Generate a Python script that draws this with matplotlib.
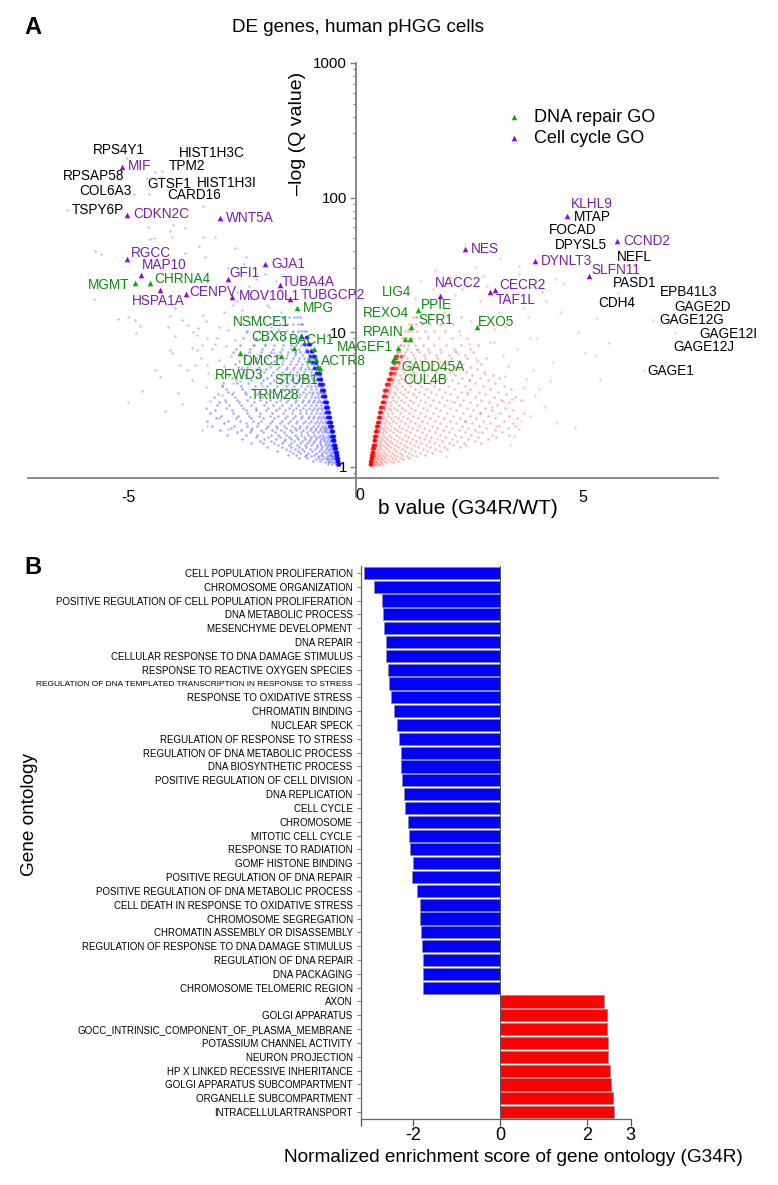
import matplotlib
matplotlib.use('Agg')
import matplotlib.pyplot as plt

W, H = 778, 1185

# volcano cloud read by eye from the picture. The real plot has thousands of
# dots, so this is a thinned version of it
blue_x = [-5.04, -4.42, -4.25, -4.29, -4.6, -4.55, -4.87, -6.36, -3.35, -4.02,
          -4.56, -3.76, -4.09, -4.44, -4.53, -4.05, -3.35, -3.09, -5.74, -5.61,
          -3.76, -3.45, -2.65, -2.4, -3.31, -5.76, -5.22, -5.0, -4.86, -4.75,
          -4.84, -4.09, -3.97, -3.83, -4.13, -3.68, -3.57, -3.97, -3.47, -3.39,
          -4.09, -4.05, -3.5, -3.28, -3.87, -3.53, -3.28, -4.42, -4.71, -5.0,
          -3.83, -4.31, -3.39, -3.28, -4.2, -3.9, -3.6, -3.2, -3.0, -2.8,
          -3.1, -2.9, -2.7, -3.4, -3.15, -2.95, -2.75, -2.55, -2.35, -3.05,
          -2.85, -2.65, -2.45, -2.25, -2.05, -3.3, -3.0, -2.8, -2.6, -2.4,
          -2.2, -2.0, -1.8, -2.9, -2.7, -2.5, -2.3, -2.1, -1.9, -1.7,
          -2.6, -2.35, -2.15, -1.95, -1.75, -2.2, -2.0, -1.8, -1.6, -1.4,
          -3.7, -3.3, -2.95, -3.6, -3.25, -3.0, -2.7, -3.5, -3.1, -2.85,
          -2.5, -1.85, -3.35, -2.6, -1.95, -1.6, -1.3, -2.8, -2.45, -2.05, -1.65]
blue_q = [196, 154, 158, 143, 140, 106, 106, 81, 87, 62,
          60, 59, 56, 50, 49, 51, 51, 51, 40, 38,
          39, 44, 42, 36, 36, 17.6, 12.5, 12.9, 12.3, 11.1,
          9.9, 13.2, 15.1, 12.3, 11, 11.3, 10, 9.3, 10.7, 8,
          7.4, 7, 7.4, 9, 5.7, 5.7, 5.7, 5.2, 3.65, 3,
          2.9, 4.67, 1.88, 2, 2.6, 3.5, 4.4, 3.1, 2.3, 1.9,
          4.6, 5.6, 3.6, 6.4, 7.5, 4, 6.6, 4.3, 6, 9,
          7.9, 8.7, 6.9, 8, 4, 12, 11, 10.4, 12.6, 10,
          8.9, 8, 7, 14, 16, 14.5, 18, 13, 15.5, 10.5,
          20, 22, 18, 20, 24, 25, 27, 9.5, 8.6, 10,
          5.2, 3.9, 3.4, 7.6, 5, 6.2, 4.2, 9.6, 8.2, 3,
          5.5, 11, 13.5, 17, 16, 12.5, 7, 30, 32, 18, 14]

# rows of dots in the wedge, one q level per row
blue_row_q = [1.03, 1.08, 1.14, 1.2, 1.27, 1.35, 1.44, 1.55, 1.67, 1.8,
              1.95, 2.1, 2.3, 2.5, 2.75, 3.0, 3.3, 3.6, 4.0, 4.4,
              4.8, 5.3, 5.8, 6.4, 7.1, 8.0, 9.0, 10.2, 11.5, 13.0]
blue_row_x = [[-.36, -.37, -.39, -.41, -.44],
              [-.37, -.38, -.4, -.42, -.45, -.5, -.58, -.67],
              [-.38, -.39, -.41, -.43, -.46, -.49, -.56, -.63, -.74, -.88],
              [-.4, -.41, -.42, -.44, -.47, -.5, -.55, -.62, -.71, -.83, -.97, -1.12],
              [-.41, -.42, -.44, -.46, -.48, -.52, -.57, -.65, -.74, -.86, -1.04, -1.22, -1.38],
              [-.42, -.43, -.45, -.47, -.5, -.53, -.59, -.66, -.77, -.89, -1.01, -1.17, -1.33, -1.52],
              [-.44, -.45, -.47, -.49, -.52, -.56, -.6, -.68, -.75, -.85, -.98, -1.12, -1.28, -1.46, -1.7],
              [-.46, -.47, -.49, -.51, -.53, -.57, -.63, -.7, -.79, -.91, -1.03, -1.18, -1.36, -1.58, -1.85, -2.1],
              [-.48, -.49, -.51, -.53, -.56, -.59, -.64, -.72, -.81, -.88, -.99, -1.14, -1.29, -1.47, -1.66, -1.93, -2.2],
              [-.5, -.51, -.53, -.55, -.58, -.62, -.67, -.74, -.83, -.94, -1.07, -1.21, -1.4, -1.57, -1.78, -2.04, -2.33, -2.6],
              [-.52, -.53, -.55, -.57, -.6, -.64, -.7, -.77, -.86, -.97, -1.1, -1.25, -1.34, -1.52, -1.72, -1.98, -2.27, -2.75],
              [-.54, -.55, -.57, -.59, -.62, -.66, -.72, -.8, -.9, -1.02, -1.16, -1.31, -1.49, -1.66, -1.88, -2.14, -2.42, -2.9],
              [-.56, -.57, -.59, -.61, -.64, -.69, -.75, -.83, -.93, -1.05, -1.2, -1.37, -1.56, -1.79, -2.03, -2.3, -2.62, -3.08],
              [-.58, -.59, -.61, -.64, -.67, -.72, -.78, -.87, -.97, -1.09, -1.23, -1.4, -1.6, -1.84, -2.11, -2.38, -2.69, -3.2],
              [-.61, -.62, -.64, -.66, -.7, -.75, -.82, -.91, -1.02, -1.15, -1.3, -1.47, -1.68, -1.92, -2.18, -2.47, -2.86, -3.3],
              [-.63, -.64, -.66, -.69, -.73, -.78, -.85, -.94, -1.05, -1.18, -1.34, -1.53, -1.74, -1.98, -2.24, -2.56, -3.0],
              [-.66, -.67, -.69, -.72, -.76, -.82, -.89, -.99, -1.11, -1.25, -1.41, -1.6, -1.81, -2.06, -2.33, -2.66, -3.12],
              [-.69, -.7, -.72, -.75, -.79, -.85, -.93, -1.03, -1.15, -1.29, -1.45, -1.64, -1.86, -2.12, -2.44, -2.81],
              [-.72, -.73, -.75, -.78, -.83, -.89, -.97, -1.07, -1.2, -1.35, -1.52, -1.72, -1.95, -2.21, -2.52, -2.95],
              [-.75, -.76, -.78, -.82, -.87, -.93, -1.02, -1.13, -1.26, -1.41, -1.59, -1.79, -2.03, -2.31, -2.64],
              [-.78, -.79, -.81, -.85, -.9, -.97, -1.06, -1.17, -1.31, -1.47, -1.65, -1.87, -2.11, -2.43, -2.78],
              [-.81, -.82, -.85, -.89, -.95, -1.02, -1.11, -1.23, -1.37, -1.54, -1.73, -1.96, -2.2, -2.52],
              [-.85, -.86, -.89, -.93, -.99, -1.07, -1.17, -1.3, -1.45, -1.62, -1.83, -2.06, -2.34, -2.65],
              [-.89, -.91, -.94, -.98, -1.05, -1.14, -1.25, -1.38, -1.54, -1.72, -1.94, -2.19, -2.46],
              [-.94, -.96, -.99, -1.04, -1.12, -1.22, -1.34, -1.49, -1.66, -1.85, -2.08, -2.35, -2.7],
              [-1.0, -1.02, -1.06, -1.12, -1.2, -1.3, -1.43, -1.6, -1.79, -2.0, -2.24, -2.55],
              [-1.05, -1.07, -1.12, -1.19, -1.29, -1.41, -1.56, -1.74, -1.95, -2.18, -2.47],
              [-1.1, -1.13, -1.19, -1.27, -1.38, -1.52, -1.69, -1.89, -2.12, -2.39],
              [-1.17, -1.2, -1.27, -1.37, -1.5, -1.66, -1.85, -2.07, -2.33],
              [-1.23, -1.28, -1.36, -1.47, -1.62, -1.8, -2.02, -2.28]]

# second pass between the rows above
blue_mid_q = [1.05, 1.11, 1.17, 1.23, 1.31, 1.39, 1.49, 1.61, 1.73, 1.87,
              2.02, 2.2, 2.4, 2.62, 2.87, 3.15, 3.45, 3.8, 4.2, 4.6,
              5.05, 5.55, 6.1, 6.75, 7.5]
blue_mid_x = [[-.385, -.43, -.52, -.61],
              [-.4, -.44, -.53, -.6, -.79, -.94],
              [-.405, -.45, -.51, -.6, -.68, -.8, -1.07, -1.25],
              [-.42, -.46, -.54, -.59, -.77, -.91, -1.08, -1.3, -1.49],
              [-.43, -.47, -.51, -.61, -.7, -.81, -.95, -1.13, -1.26, -1.45, -1.73],
              [-.45, -.48, -.55, -.63, -.73, -.84, -1.09, -1.24, -1.41, -1.62, -1.94],
              [-.47, -.5, -.58, -.66, -.78, -.93, -1.07, -1.23, -1.42, -1.61, -1.79, -2.03, -2.3],
              [-.49, -.52, -.6, -.69, -.76, -.86, -1.0, -1.11, -1.26, -1.43, -1.55, -1.75, -2.01, -2.49],
              [-.5, -.54, -.61, -.71, -.79, -.92, -1.05, -1.19, -1.34, -1.52, -1.71, -1.87, -2.16, -2.42, -2.84],
              [-.52, -.56, -.65, -.69, -.78, -.89, -1.01, -1.15, -1.31, -1.45, -1.63, -1.83, -2.09, -2.29, -2.52, -2.98],
              [-.54, -.58, -.67, -.73, -.82, -.94, -1.06, -1.22, -1.39, -1.58, -1.76, -1.92, -2.17, -2.39, -2.68, -3.15],
              [-.56, -.6, -.68, -.76, -.85, -.98, -1.12, -1.28, -1.44, -1.62, -1.84, -2.07, -2.25, -2.55, -2.81, -3.27],
              [-.58, -.63, -.71, -.8, -.91, -1.03, -1.17, -1.33, -1.51, -1.7, -1.89, -2.12, -2.34, -2.58, -2.96],
              [-.6, -.65, -.74, -.84, -.95, -1.08, -1.22, -1.38, -1.55, -1.76, -1.96, -2.2, -2.42, -2.73, -3.1],
              [-.63, -.68, -.77, -.87, -.99, -1.12, -1.27, -1.43, -1.62, -1.81, -2.02, -2.29, -2.51, -2.79, -3.05],
              [-.65, -.7, -.8, -.91, -1.02, -1.16, -1.31, -1.49, -1.67, -1.88, -2.1, -2.38, -2.61, -2.88],
              [-.68, -.74, -.83, -.95, -1.08, -1.22, -1.37, -1.54, -1.72, -1.93, -2.16, -2.41, -2.73, -3.02],
              [-.71, -.77, -.87, -.99, -1.12, -1.27, -1.43, -1.6, -1.79, -2.0, -2.26, -2.49, -2.85],
              [-.74, -.8, -.9, -1.03, -1.17, -1.32, -1.48, -1.67, -1.88, -2.09, -2.36, -2.6, -2.91],
              [-.77, -.84, -.95, -1.08, -1.23, -1.38, -1.54, -1.73, -1.94, -2.16, -2.4, -2.72],
              [-.8, -.87, -.99, -1.13, -1.28, -1.44, -1.61, -1.81, -2.01, -2.25, -2.48],
              [-.84, -.92, -1.04, -1.19, -1.35, -1.51, -1.69, -1.89, -2.12, -2.38, -2.59],
              [-.88, -.96, -1.1, -1.26, -1.42, -1.6, -1.79, -2.0, -2.22, -2.56],
              [-.93, -1.02, -1.17, -1.33, -1.51, -1.7, -1.91, -2.13, -2.4],
              [-.98, -1.08, -1.25, -1.43, -1.62, -1.82, -2.05, -2.32, -2.63]]

# the solid strip along the wedge edge
blue_core_q = [1.04, 1.1, 1.16, 1.22, 1.29, 1.37, 1.46, 1.58, 1.7, 1.85,
               2.0, 2.15, 2.35, 2.55, 2.8, 3.05, 3.35, 3.7, 4.1, 4.5,
               4.95, 5.45, 6.0, 6.6, 7.3, 8.2, 9.2]
blue_core_x = [[-.36, -.375, -.395], [-.375, -.39, -.41], [-.39, -.405, -.425], [-.4, -.415, -.44],
               [-.415, -.43, -.455], [-.43, -.445, -.47], [-.445, -.46, -.49], [-.465, -.48, -.51],
               [-.48, -.5, -.53], [-.505, -.52, -.55], [-.525, -.545, -.575], [-.545, -.565, -.6],
               [-.565, -.585, -.62], [-.585, -.61, -.645], [-.615, -.635, -.67], [-.635, -.66, -.7],
               [-.665, -.69, -.73], [-.695, -.72, -.76], [-.725, -.75, -.8], [-.755, -.78, -.83],
               [-.785, -.815, -.87], [-.82, -.855, -.91], [-.86, -.895, -.96], [-.9, -.94, -1.01],
               [-.95, -.99, -1.07], [-1.01, -1.05, -1.13], [-1.06, -1.1, -1.2]]

red_x = [6.56, 6.34, 7.04, 5.39, 5.31, 5.78, 5.57, 4.43, 4.83, 5.05,
         4.28, 5.28, 3.18, 2.63, 1.75, 2.08, 3.6, 4.1, 4.6, 3.3,
         3.7, 4.2, 4.9, 2.9, 3.4, 3.85, 4.35, 2.4, 2.75, 3.15,
         3.55, 3.95, 2.2, 2.55, 2.95, 3.35, 3.75, 4.15, 1.95, 2.3,
         2.65, 3.05, 3.45, 3.9, 1.6, 1.9, 2.2, 2.5, 2.85, 3.25,
         3.65, 4.05, 1.35, 1.6, 1.85, 2.15, 2.45, 2.75, 3.1, 3.5,
         3.85, 1.15, 1.35, 1.6, 1.85, 2.1, 2.4, 2.7, 3.0, 3.4,
         3.6, 3.05, 3.3, 3.8, 4.5, 4.0, 1.45, 1.7, 2.05, 2.35,
         2.8, 3.6, 4.4, 1.3, 2.25, 2.0, 3.3, 2.5, 3.25, 3.72]
red_q = [12.3, 5.2, 9.9, 4.4, 12.8, 19.6, 8.3, 2.14, 1.96, 7,
         4.3, 6.7, 35.5, 30.4, 29, 25.8, 27, 20, 23, 18,
         15, 17, 10, 22, 12.5, 9, 6, 24, 17, 14,
         7.5, 3.4, 19, 12, 8.5, 5.6, 4.5, 2.8, 14, 9.5,
         6.4, 10.5, 3.2, 5.2, 17, 11.5, 7.2, 8.2, 4.9, 3.1,
         2.2, 3.8, 13, 9.3, 6.1, 5, 3.6, 2.5, 2, 1.7,
         2.4, 10.5, 7.4, 5.3, 4.2, 3.1, 2.2, 1.8, 2.8, 1.45,
         1.9, 8.4, 11, 13, 14, 9, 24, 21, 16, 21,
         26, 31, 25, 18, 6.9, 1.2, 4.7, 4.4, 6.6, 3.9]

red_row_q = [1.03, 1.08, 1.14, 1.2, 1.27, 1.35, 1.44, 1.55, 1.67, 1.8,
             1.95, 2.1, 2.3, 2.5, 2.75, 3.0, 3.3, 3.6, 4.0, 4.4,
             4.8, 5.3, 5.8, 6.4, 7.1, 8.0, 9.0, 10.2, 11.5, 13.0]
red_row_x = [[.31, .32, .34, .37, .41, .46, .53],
             [.32, .33, .35, .38, .42, .48, .56, .68, .82],
             [.33, .34, .36, .39, .44, .5, .59, .71, .86, 1.05],
             [.34, .35, .37, .4, .45, .52, .62, .75, .92, 1.13, 1.34],
             [.35, .36, .38, .42, .47, .55, .66, .8, .97, 1.18, 1.41, 1.68],
             [.36, .37, .39, .43, .49, .57, .69, .84, 1.02, 1.23, 1.48, 1.76, 2.02],
             [.38, .39, .41, .45, .51, .6, .72, .87, 1.06, 1.29, 1.55, 1.83, 2.14, 2.43],
             [.39, .4, .42, .47, .53, .62, .75, .91, 1.11, 1.34, 1.61, 1.91, 2.23, 2.62],
             [.41, .42, .44, .49, .56, .65, .78, .95, 1.16, 1.4, 1.67, 1.98, 2.32, 2.7, 3.1],
             [.43, .44, .46, .51, .58, .68, .82, .99, 1.21, 1.46, 1.74, 2.06, 2.41, 2.79, 3.23],
             [.45, .46, .48, .53, .6, .7, .85, 1.03, 1.25, 1.51, 1.8, 2.13, 2.48, 2.88, 3.35],
             [.47, .48, .5, .55, .63, .74, .89, 1.08, 1.31, 1.57, 1.87, 2.21, 2.57, 2.97, 3.46],
             [.49, .5, .53, .58, .66, .78, .93, 1.13, 1.37, 1.64, 1.95, 2.29, 2.66, 3.08, 3.56],
             [.51, .52, .55, .61, .69, .81, .97, 1.18, 1.42, 1.7, 2.02, 2.37, 2.74, 3.17, 3.7],
             [.54, .55, .58, .64, .73, .85, 1.02, 1.23, 1.48, 1.77, 2.09, 2.45, 2.84, 3.29],
             [.57, .58, .61, .67, .76, .89, 1.06, 1.27, 1.53, 1.83, 2.16, 2.53, 2.93, 3.38],
             [.6, .61, .64, .7, .8, .93, 1.11, 1.33, 1.59, 1.9, 2.24, 2.62, 3.04, 3.51],
             [.63, .64, .67, .74, .84, .98, 1.16, 1.39, 1.66, 1.97, 2.32, 2.71, 3.14],
             [.67, .68, .71, .78, .88, 1.02, 1.21, 1.44, 1.72, 2.04, 2.4, 2.8, 3.26],
             [.71, .72, .75, .82, .93, 1.07, 1.27, 1.51, 1.8, 2.13, 2.49, 2.92],
             [.75, .76, .79, .86, .97, 1.12, 1.32, 1.57, 1.86, 2.2, 2.57, 3.02],
             [.78, .8, .84, .91, 1.02, 1.18, 1.38, 1.64, 1.94, 2.28, 2.67],
             [.82, .84, .88, .96, 1.08, 1.24, 1.45, 1.71, 2.02, 2.37, 2.76],
             [.86, .88, .93, 1.01, 1.14, 1.31, 1.53, 1.8, 2.11, 2.46, 2.88],
             [.91, .93, .99, 1.08, 1.22, 1.39, 1.62, 1.89, 2.21, 2.58],
             [.97, 1.0, 1.06, 1.16, 1.3, 1.49, 1.72, 2.0, 2.33, 2.7],
             [1.03, 1.07, 1.14, 1.25, 1.4, 1.6, 1.84, 2.13, 2.46],
             [1.1, 1.15, 1.23, 1.35, 1.52, 1.73, 1.98, 2.28],
             [1.18, 1.24, 1.33, 1.47, 1.65, 1.87, 2.14],
             [1.27, 1.34, 1.45, 1.6, 1.8, 2.03, 2.32]]

red_mid_q = [1.05, 1.11, 1.17, 1.23, 1.31, 1.39, 1.49, 1.61, 1.73, 1.87,
             2.02, 2.2, 2.4, 2.62, 2.87, 3.15, 3.45, 3.8, 4.2, 4.6,
             5.05, 5.55, 6.1, 6.75, 7.5]
red_mid_x = [[.33, .36, .43, .5, .6],
             [.34, .38, .45, .54, .63, .77, .94],
             [.35, .39, .47, .57, .66, .8, .99, 1.17],
             [.36, .41, .49, .59, .69, .85, 1.03, 1.25, 1.52],
             [.37, .42, .5, .61, .73, .89, 1.09, 1.32, 1.58, 1.85],
             [.38, .44, .53, .64, .77, .93, 1.13, 1.37, 1.64, 1.95, 2.3],
             [.4, .46, .55, .67, .81, .98, 1.19, 1.44, 1.72, 2.05, 2.38, 2.77],
             [.42, .48, .58, .7, .84, 1.03, 1.24, 1.5, 1.79, 2.12, 2.47, 2.92],
             [.43, .5, .6, .73, .89, 1.08, 1.3, 1.56, 1.86, 2.19, 2.55, 3.0, 3.38],
             [.45, .52, .63, .76, .92, 1.12, 1.35, 1.62, 1.93, 2.27, 2.64, 3.06],
             [.47, .54, .65, .79, .96, 1.16, 1.4, 1.68, 2.0, 2.34, 2.72, 3.16, 3.52],
             [.49, .57, .68, .83, 1.0, 1.21, 1.46, 1.74, 2.07, 2.42, 2.81, 3.27],
             [.52, .6, .72, .87, 1.05, 1.26, 1.52, 1.81, 2.14, 2.51, 2.91, 3.37],
             [.54, .63, .75, .91, 1.1, 1.32, 1.58, 1.87, 2.21, 2.58, 3.0, 3.47],
             [.57, .66, .79, .95, 1.15, 1.37, 1.63, 1.94, 2.29, 2.67, 3.11],
             [.6, .69, .83, 1.0, 1.2, 1.43, 1.71, 2.02, 2.37, 2.76, 3.2, 3.64],
             [.63, .73, .87, 1.05, 1.26, 1.5, 1.78, 2.09, 2.45, 2.86, 3.31],
             [.67, .77, .92, 1.1, 1.31, 1.56, 1.84, 2.17, 2.53, 2.95, 3.42],
             [.71, .81, .96, 1.15, 1.37, 1.63, 1.92, 2.25, 2.63, 3.07],
             [.75, .85, 1.01, 1.21, 1.44, 1.7, 2.0, 2.35, 2.73, 3.16],
             [.78, .9, 1.07, 1.27, 1.51, 1.78, 2.09, 2.43, 2.83],
             [.82, .95, 1.13, 1.34, 1.59, 1.87, 2.18, 2.53],
             [.87, 1.0, 1.19, 1.42, 1.68, 1.96, 2.29, 2.68],
             [.92, 1.07, 1.27, 1.51, 1.77, 2.06, 2.41],
             [.98, 1.13, 1.35, 1.6, 1.87, 2.17, 2.52]]

red_core_q = [1.04, 1.1, 1.16, 1.22, 1.29, 1.37, 1.46, 1.58, 1.7, 1.85,
              2.0, 2.15, 2.35, 2.55, 2.8, 3.05, 3.35, 3.7, 4.1, 4.5,
              4.95, 5.45, 6.0, 6.6]
red_core_x = [[.31, .32, .335], [.325, .335, .35], [.335, .345, .365], [.345, .355, .375],
              [.355, .365, .385], [.365, .38, .4], [.385, .395, .42], [.4, .415, .44],
              [.415, .43, .455], [.435, .45, .48], [.455, .47, .5], [.475, .49, .52],
              [.495, .515, .55], [.515, .535, .57], [.545, .565, .6], [.575, .595, .63],
              [.605, .625, .665], [.635, .66, .7], [.675, .7, .745], [.715, .74, .79],
              [.755, .785, .84], [.79, .825, .89], [.83, .87, .94], [.875, .92, 1.0]]

repair_x = [-4.86, -4.53, -1.29, -2.54, -1.64, -1.35, -0.92, -1.03, -0.87, -0.82,
            -0.78, 1.38, 1.23, 2.67, 1.10, 1.19, 0.94, 0.87, 0.83]
repair_q = [23.1, 23.1, 15.1, 7.0, 6.7, 7.6, 7.5, 6.2, 6.3, 5.5,
            5.4, 14.5, 11, 10.9, 8.9, 8.9, 7.6, 6.5, 6.2]
cycle_x = [-5.14, -5.03, -2.98, -5.02, -4.72, -4.31, -3.74, -2.80, -2.71, -1.99,
           -1.67, -1.44, 4.65, 5.75, 2.41, 3.96, 5.14, 1.86, 3.07, 2.97]
cycle_q = [170, 74, 71, 34.8, 26.8, 20.5, 19.3, 24.8, 18.3, 32.1,
           22.3, 17.7, 72.8, 47.6, 41.6, 33.8, 26.3, 18.5, 20.5, 19.9]

black_genes = ['RPS4Y1', 'HIST1H3C', 'TPM2', 'RPSAP58', 'GTSF1', 'HIST1H3I', 'COL6A3',
               'CARD16', 'TSPY6P', 'MTAP', 'FOCAD', 'DPYSL5', 'NEFL', 'PASD1', 'EPB41L3',
               'CDH4', 'GAGE2D', 'GAGE12G', 'GAGE12I', 'GAGE12J', 'GAGE1']
black_px = [(93, 150), (179, 153), (169, 166), (63, 176), (147, 184), (197, 183), (79, 191),
            (167, 195), (72, 210), (574, 217), (549, 230), (555, 245), (617, 257), (613, 283),
            (660, 292), (598, 303), (674, 307), (659, 320), (699, 334), (673, 347), (647, 371)]
purple_genes = ['MIF', 'CDKN2C', 'WNT5A', 'RGCC', 'MAP10', 'GFI1', 'GJA1', 'TUBA4A', 'CENPV',
                'MOV10L1', 'TUBGCP2', 'HSPA1A', 'KLHL9', 'CCND2', 'NES', 'DYNLT3', 'SLFN11',
                'NACC2', 'CECR2', 'TAF1L']
purple_px = [(128, 166), (133, 214), (226, 218), (131, 253), (142, 265), (229, 273), (271, 264),
             (282, 282), (189, 292), (239, 296), (301, 295), (132, 301), (571, 204), (623, 241),
             (471, 249), (541, 261), (591, 270), (435, 283), (499, 285), (496, 300)]
green_genes = ['MGMT', 'CHRNA4', 'MPG', 'NSMCE1', 'CBX8', 'BACH1', 'MAGEF1', 'DMC1', 'ACTR8',
               'RFWD3', 'STUB1', 'TRIM28', 'LIG4', 'PPIE', 'REXO4', 'SFR1', 'EXO5', 'RPAIN',
               'GADD45A', 'CUL4B']
green_px = [(88, 285), (154, 279), (303, 308), (233, 322), (251, 337), (289, 340), (337, 347),
            (243, 361), (321, 361), (215, 375), (274, 380), (251, 395), (382, 292), (421, 305),
            (363, 313), (418, 320), (478, 322), (363, 332), (401, 367), (403, 380)]

go_terms = ['CELL POPULATION PROLIFERATION', 'CHROMOSOME ORGANIZATION',
            'POSITIVE REGULATION OF CELL POPULATION PROLIFERATION', 'DNA METABOLIC PROCESS',
            'MESENCHYME DEVELOPMENT', 'DNA REPAIR', 'CELLULAR RESPONSE TO DNA DAMAGE STIMULUS',
            'RESPONSE TO REACTIVE OXYGEN SPECIES',
            'REGULATION OF DNA TEMPLATED TRANSCRIPTION IN RESPONSE TO STRESS',
            'RESPONSE TO OXIDATIVE STRESS', 'CHROMATIN BINDING', 'NUCLEAR SPECK',
            'REGULATION OF RESPONSE TO STRESS', 'REGULATION OF DNA METABOLIC PROCESS',
            'DNA BIOSYNTHETIC PROCESS', 'POSITIVE REGULATION OF CELL DIVISION', 'DNA REPLICATION',
            'CELL CYCLE', 'CHROMOSOME', 'MITOTIC CELL CYCLE', 'RESPONSE TO RADIATION',
            'GOMF HISTONE BINDING', 'POSITIVE REGULATION OF DNA REPAIR',
            'POSITIVE REGULATION OF DNA METABOLIC PROCESS',
            'CELL DEATH IN RESPONSE TO OXIDATIVE STRESS', 'CHROMOSOME SEGREGATION',
            'CHROMATIN ASSEMBLY OR DISASSEMBLY', 'REGULATION OF RESPONSE TO DNA DAMAGE STIMULUS',
            'REGULATION OF DNA REPAIR', 'DNA PACKAGING', 'CHROMOSOME TELOMERIC REGION',
            'AXON', 'GOLGI APPARATUS', 'GOCC_INTRINSIC_COMPONENT_OF_PLASMA_MEMBRANE',
            'POTASSIUM CHANNEL ACTIVITY', 'NEURON PROJECTION', 'HP X LINKED RECESSIVE INHERITANCE',
            'GOLGI APPARATUS SUBCOMPARTMENT', 'ORGANELLE SUBCOMPARTMENT', 'INTRACELLULARTRANSPORT']
nes = [-3.14, -2.89, -2.71, -2.69, -2.66, -2.62, -2.62, -2.58, -2.56, -2.51,
       -2.44, -2.37, -2.33, -2.28, -2.27, -2.26, -2.22, -2.19, -2.12, -2.10,
       -2.08, -2.01, -2.03, -1.92, -1.85, -1.85, -1.81, -1.80, -1.77, -1.77,
       -1.77, 2.39, 2.46, 2.47, 2.49, 2.49, 2.53, 2.56, 2.59, 2.62]

plt.rcParams['font.family'] = ['Liberation Sans', 'DejaVu Sans']

GREY = '#808080'
GREEN_T = '#118a11'
PURPLE_T = '#7d1fa8'


def axes_px(fig, left, top, right, bottom):
    return fig.add_axes([left / W, 1 - bottom / H, (right - left) / W, (bottom - top) / H])


def px_text(fig, x, y, s, **kw):
    kw.setdefault('va', 'center')
    return fig.text(x / W, 1 - y / H, s, **kw)


def unroll(row_q, row_x):
    xs, qs = [], []
    for q, row in zip(row_q, row_x):
        xs += row
        qs += [q] * len(row)
    return xs, qs


fig = plt.figure(figsize=(W / 100, H / 100), dpi=100)

# panel A
ax = axes_px(fig, 28, 63, 718, 478)
ax.set_yscale('log')
ax.set_xlim(-7.21, 7.98)
ax.set_ylim(0.824, 1000)
ax.scatter(blue_x, blue_q, s=3, color='#2a2aff', alpha=0.3, linewidths=0)
ax.scatter(*unroll(blue_row_q, blue_row_x), s=3.5, color='#0000ff', alpha=0.33, linewidths=0)
ax.scatter(*unroll(blue_mid_q, blue_mid_x), s=3.5, color='#0000ff', alpha=0.33, linewidths=0)
ax.scatter(*unroll(blue_core_q, blue_core_x), s=7, color='#0000ff', alpha=0.75, linewidths=0)
ax.scatter(red_x, red_q, s=3, color='#ff2a2a', alpha=0.28, linewidths=0)
ax.scatter(*unroll(red_row_q, red_row_x), s=3.5, color='#ff0000', alpha=0.28, linewidths=0)
ax.scatter(*unroll(red_mid_q, red_mid_x), s=3.5, color='#ff0000', alpha=0.28, linewidths=0)
ax.scatter(*unroll(red_core_q, red_core_x), s=7, color='#ff0000', alpha=0.7, linewidths=0)
ax.scatter(repair_x, repair_q, marker='^', s=16, color='#00b000', linewidths=0, zorder=3, label='DNA repair GO')
ax.scatter(cycle_x, cycle_q, marker='^', s=16, color='#a000e0', linewidths=0, zorder=3, label='Cell cycle GO')

for side in ['top', 'right']:
    ax.spines[side].set_visible(False)
ax.spines['left'].set_position(('data', 0))
for side in ['left', 'bottom']:
    ax.spines[side].set_color(GREY)
    ax.spines[side].set_linewidth(1.3)
ax.plot([0, 0], [0.6, 0.824], color=GREY, lw=1.3, clip_on=False)
ax.set_xticks([-5, 5])
ax.set_xticklabels(['-5', '5'], fontsize=11.5)
ax.tick_params(axis='x', length=0, pad=9)
ax.set_yticks([1, 10, 100, 1000])
ax.set_yticklabels(['1', '10', '100', '1000'], fontsize=10.8)
ax.tick_params(axis='y', which='major', length=4, width=1, color=GREY, pad=2)
ax.tick_params(axis='y', which='minor', length=2, width=0.8, color=GREY, labelleft=False)
ax.legend(loc='upper left', bbox_to_anchor=(505 / W, 1 - 109 / H), bbox_transform=fig.transFigure,
          frameon=False, fontsize=13, borderpad=0, borderaxespad=0, labelspacing=0.2,
          handlelength=1, handletextpad=0.6, scatterpoints=1)

for names, spots, colour in [(black_genes, black_px, 'black'), (purple_genes, purple_px, PURPLE_T),
                             (green_genes, green_px, GREEN_T)]:
    for name, (x, y) in zip(names, spots):
        px_text(fig, x, y, name, color=colour, fontsize=9.8)

px_text(fig, 24, 27, 'A', fontsize=17, fontweight='bold')
px_text(fig, 232, 28, 'DE genes, human pHGG cells', fontsize=13.6)
px_text(fig, 298, 133, '\u2013log (Q value)', fontsize=14, rotation=90, ha='center')
px_text(fig, 360, 495, '0', fontsize=11.5, ha='center')
px_text(fig, 468, 509, 'b value (G34R/WT)', fontsize=15, ha='center')

# panel B
bx = axes_px(fig, 361, 566, 630.5, 1119)
ypos = list(range(len(go_terms)))
colours = ['#0000ff' if v < 0 else '#ff0000' for v in nes]
bx.barh(ypos, nes, height=0.88, color=colours, edgecolor='#8a8a8a', linewidth=0.5)
bx.set_xlim(-3.2, 3)
bx.set_ylim(len(go_terms) - 0.5, -0.5)
bx.set_yticks(ypos)
bx.set_yticklabels(go_terms, fontsize=7)
bx.get_yticklabels()[8].set_fontsize(6)
bx.set_xticks([-3.2, -2, 0, 2, 3])
bx.set_xticklabels(['', '-2', '0', '2', '3'], fontsize=13)
bx.tick_params(axis='y', length=3, width=0.7, color=GREY, pad=3)
bx.tick_params(axis='x', length=5, width=0.9, color='#555555', pad=1)
for side in ['top', 'right']:
    bx.spines[side].set_visible(False)
for side in ['left', 'bottom']:
    bx.spines[side].set_color('#666666')
    bx.spines[side].set_linewidth(0.9)
bx.axvline(0, color='#555555', lw=0.7, zorder=3)

px_text(fig, 24, 568, 'B', fontsize=17, fontweight='bold')
px_text(fig, 30, 815, 'Gene ontology', fontsize=13.7, rotation=90, ha='center')
px_text(fig, 513.5, 1157, 'Normalized enrichment score of gene ontology (G34R)', fontsize=13.7, ha='center')

fig.savefig('out.png', dpi=100)
